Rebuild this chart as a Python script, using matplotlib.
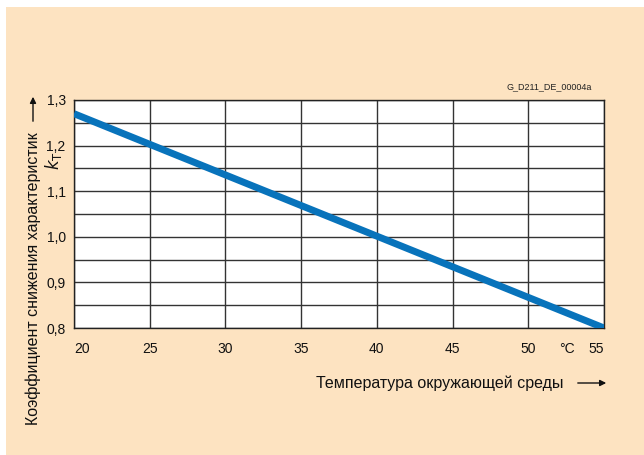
import matplotlib.pyplot as plt
from matplotlib.patches import Rectangle

# data
temps = [20, 55]
k_t = [1.27, 0.80]
x_ticks = [20, 25, 30, 35, 40, 45, 50, 55]
y_ticks = [0.8, 0.9, 1.0, 1.1, 1.2, 1.3]
y_tick_labels = ['0,8', '0,9', '1,0', '1,1', '1,2', '1,3']

plt.rcParams['font.family'] = ['Liberation Sans', 'DejaVu Sans']

W, H = 644, 455
fig = plt.figure(figsize=(W / 100, H / 100), dpi=100)
fig.patch.set_facecolor('white')

# peach panel with a thin white margin top/left
fig.patches.append(Rectangle((6 / W, 0), 1 - 6 / W, 1 - 7 / H,
                             transform=fig.transFigure, facecolor='#FDE3C1',
                             edgecolor='none', zorder=-5))

ax = fig.add_axes([74 / W, 1 - 328 / H, (604 - 74) / W, (328 - 100) / H])
ax.set_zorder(2)
ax.set_facecolor('white')
ax.set_xlim(20, 55)
ax.set_ylim(0.8, 1.3)

# grid: vertical every 5 degrees, horizontal every 0.05
for x in x_ticks:
    ax.axvline(x, color='#333333', lw=1.0, zorder=1)
y = 0.8
while y < 1.301:
    ax.axhline(y, color='#333333', lw=1.0, zorder=1)
    y += 0.05

ax.plot(temps, k_t, color='#0873BB', lw=5, solid_capstyle='butt', zorder=3)

for s in ax.spines.values():
    s.set_color('#222222')
    s.set_linewidth(1.0)

ax.set_xticks(x_ticks)
ax.set_xticklabels([str(t) for t in x_ticks])
ax.set_yticks(y_ticks)
ax.set_yticklabels(y_tick_labels)
ax.tick_params(length=0, labelsize=10, colors='#111111')
ax.tick_params(axis='x', pad=10)
ax.tick_params(axis='y', pad=6)
xl = ax.get_xticklabels()
xl[0].set_horizontalalignment('left')
xl[-1].set_horizontalalignment('right')

fig.text(567 / W, 1 - 349 / H, '°C', fontsize=10,
         ha='center', va='center', color='#111111')

# y axis label with arrow
fig.text(33 / W, 1 - 279 / H, 'Коэффициент снижения характеристик',
         rotation=90, ha='center', va='center', fontsize=11.5, color='#111111')
fig.text(54 / W, 1 - 161 / H, r'$k_{\mathrm{T}}$', rotation=90,
         ha='center', va='center', fontsize=12, color='#111111')
fig.add_artist(plt.Annotation('', xy=(33 / W, 1 - 94 / H), xytext=(33 / W, 1 - 124 / H),
                              xycoords='figure fraction', textcoords='figure fraction',
                              arrowprops=dict(arrowstyle='-|>', color='#111111',
                                              lw=1.0, mutation_scale=9)))

# x axis label with arrow
fig.text(563 / W, 1 - 383 / H, 'Температура окружающей среды',
         ha='right', va='center', fontsize=11.5, color='#111111')
fig.add_artist(plt.Annotation('', xy=(609 / W, 1 - 383 / H), xytext=(575 / W, 1 - 383 / H),
                              xycoords='figure fraction', textcoords='figure fraction',
                              arrowprops=dict(arrowstyle='-|>', color='#111111',
                                              lw=1.0, mutation_scale=9)))

fig.text(592 / W, 1 - 87 / H, 'G_D211_DE_00004a', ha='right', va='center',
         fontsize=6.5, color='#222222')

fig.savefig('out.png', dpi=100, facecolor=fig.get_facecolor())
